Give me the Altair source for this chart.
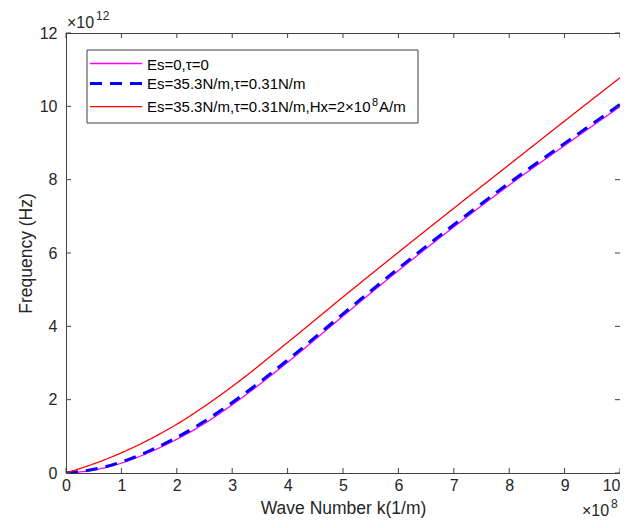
import altair as alt
import pandas as pd

# Wave number (x 1e8 1/m)
k = [0, 0.5, 1, 1.5, 2, 2.5, 3, 4, 5, 6, 7, 8, 9, 10]
# Frequency (x 1e12 Hz)
f_base = [0, 0.08, 0.27, 0.56, 0.92, 1.35, 1.86, 3.02, 4.28, 5.52, 6.71, 7.85, 8.93, 9.99]
f_surf = [0, 0.10, 0.30, 0.60, 0.97, 1.41, 1.92, 3.08, 4.34, 5.58, 6.77, 7.91, 8.99, 10.05]
f_field = [0, 0.25, 0.55, 0.91, 1.33, 1.82, 2.36, 3.56, 4.80, 6.02, 7.22, 8.41, 9.60, 10.78]

series_names = [
    "Es=0,τ=0",
    "Es=35.3N/m,τ=0.31N/m",
    "Es=35.3N/m,τ=0.31N/m,Hx=2×10⁸A/m",
]
colors = ["#FF00FF", "#0000FF", "#FF0000"]
dashes = [[1, 0], [12, 8], [1, 0]]
widths = [1.3, 3.0, 1.3]
x_ticks = list(range(0, 11))
y_ticks = [0, 2, 4, 6, 8, 10, 12]

rows = []
for name, vals in zip(series_names, [f_base, f_surf, f_field]):
    for kk, v in zip(k, vals):
        rows.append({"k": kk, "f": v, "series": name})
df = pd.DataFrame(rows)

W, H = 554, 440
FONT = "Liberation Sans"
INK = "#262626"
BOX = "#404040"

xs = alt.Scale(domain=[0, 10], nice=False, zero=False)
ys = alt.Scale(domain=[0, 12], nice=False, zero=False)

x_axis = alt.Axis(
    values=x_ticks, title="Wave Number k(1/m)", ticks=False, domain=False, grid=False,
    labelFont=FONT, labelFontSize=16, labelColor=INK, labelPadding=4,
    labelAlign={"condition": {"test": "datum.value >= 10", "value": "right"}, "value": "center"},
    titleFont=FONT, titleFontSize=17.5, titleFontWeight="normal", titleColor=INK,
    titlePadding=6, labelFlush=False)
y_axis = alt.Axis(
    values=y_ticks, title="Frequency (Hz)", ticks=False, domain=False, grid=False,
    labelFont=FONT, labelFontSize=16, labelColor=INK, labelPadding=9,
    titleFont=FONT, titleFontSize=17.5, titleFontWeight="normal", titleColor=INK,
    titlePadding=4, labelFlush=False)

lines = alt.Chart(df).mark_line(interpolate="monotone", clip=True).encode(
    x=alt.X("k:Q", scale=xs, axis=x_axis),
    y=alt.Y("f:Q", scale=ys, axis=y_axis),
    color=alt.Color("series:N", scale=alt.Scale(domain=series_names, range=colors), legend=None),
    strokeDash=alt.StrokeDash("series:N", scale=alt.Scale(domain=series_names, range=dashes), legend=None),
    strokeWidth=alt.StrokeWidth("series:N", scale=alt.Scale(type="ordinal", domain=series_names, range=widths), legend=None),
)

xt = alt.Chart(pd.DataFrame({"v": x_ticks}))
yt = alt.Chart(pd.DataFrame({"v": y_ticks}))
tick_x_bottom = xt.mark_rule(color=BOX, strokeWidth=1).encode(
    x=alt.X("v:Q", scale=xs, axis=x_axis), y=alt.value(H), y2=alt.value(H - 5))
tick_x_top = xt.mark_rule(color=BOX, strokeWidth=1).encode(
    x=alt.X("v:Q", scale=xs, axis=x_axis), y=alt.value(0), y2=alt.value(5))
tick_y_left = yt.mark_rule(color=BOX, strokeWidth=1).encode(
    y=alt.Y("v:Q", scale=ys, axis=y_axis), x=alt.value(0), x2=alt.value(5))
tick_y_right = yt.mark_rule(color=BOX, strokeWidth=1).encode(
    y=alt.Y("v:Q", scale=ys, axis=y_axis), x=alt.value(W), x2=alt.value(W - 5))


def txt(s, x, y, size, align="left", color=INK):
    return alt.Chart(pd.DataFrame({"t": [s]})).mark_text(
        font=FONT, fontSize=size, color=color, align=align, baseline="alphabetic"
    ).encode(text="t:N", x=alt.value(x), y=alt.value(y))


exp_layers = [
    txt("×10", 1, -5, 16),
    txt("12", 30, -13, 12),
    txt("×10", 516, 483, 16),
    txt("8", 545, 475, 12),
]

# manual legend (MATLAB style)
LX0, LX1, LY0, LY1 = 21, 352, 17, 90
one = pd.DataFrame({"a": [0]})
leg_box = alt.Chart(one).mark_rect(fill="white", stroke=BOX, strokeWidth=1).encode(
    x=alt.value(LX0), x2=alt.value(LX1), y=alt.value(LY0), y2=alt.value(LY1))
row_line_y = [30.5, 50.5, 73.7]
row_text_y = [36.5, 56.3, 78.7]
leg_layers = [leg_box]
for i in range(3):
    leg_layers.append(
        alt.Chart(one).mark_rule(color=colors[i], strokeWidth=widths[i],
                                 strokeDash=dashes[i]).encode(
            x=alt.value(24), x2=alt.value(76), y=alt.value(row_line_y[i])))
LF = 15
leg_layers.append(txt("Es=0,τ=0", 81, row_text_y[0], LF, color="#000000"))
leg_layers.append(txt("Es=35.3N/m,τ=0.31N/m", 81, row_text_y[1], LF, color="#000000"))
leg_layers.append(txt("Es=35.3N/m,τ=0.31N/m,Hx=2×10", 81, row_text_y[2], LF, color="#000000"))
leg_layers.append(txt("8", 306, row_text_y[2] - 6, 11, color="#000000"))
leg_layers.append(txt("A/m", 313, row_text_y[2], LF, color="#000000"))

chart = alt.layer(
    lines, tick_x_bottom, tick_x_top, tick_y_left, tick_y_right,
    *exp_layers, *leg_layers,
).properties(
    width=W, height=H, autosize="none",
    padding={"left": 58, "top": 25, "right": 0, "bottom": 47},
    background="white",
).configure_view(stroke=BOX, strokeWidth=1)

chart.save("out.html", embed_options={"renderer": "svg", "actions": False})
